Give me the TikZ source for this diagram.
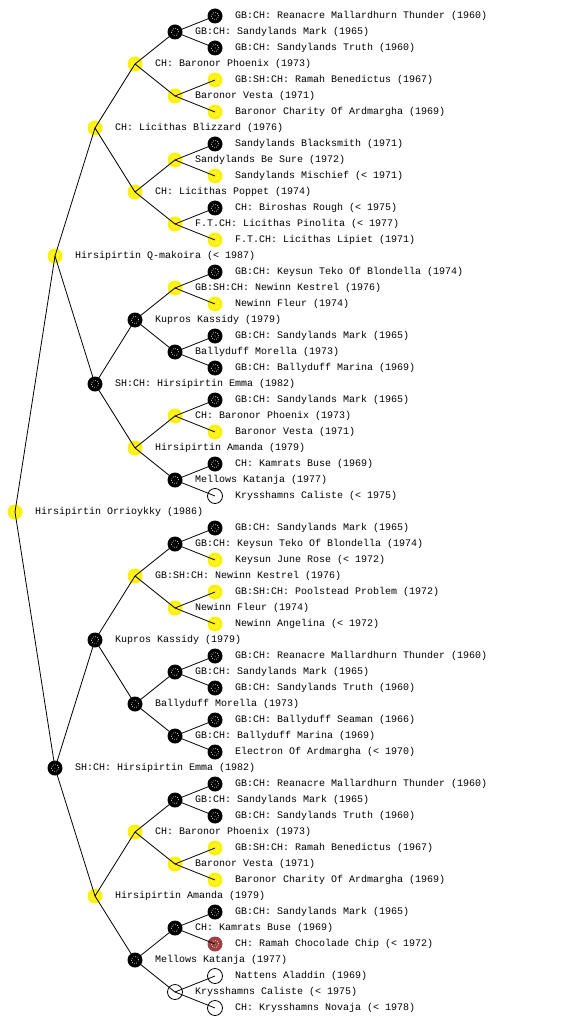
\documentclass[tikz,border=0pt]{standalone}
\usepackage{fontspec}
\setmonofont{Liberation Mono}
\tikzset{
  dotring/.style={path picture={\draw[#1, line width=0.7pt, dash pattern=on 0.7pt off 1.5pt] (path picture bounding box.center) circle (3.6pt); \fill[#1] (path picture bounding box.center) circle (0.5pt);}},
  pn/.style={circle, inner sep=0pt, minimum size=15pt},
  yel/.style={pn, fill=yellow, dotring=white},
  blk/.style={pn, fill=black, dotring=white},
  wht/.style={pn, draw=black, line width=0.8pt, fill=white},
  redn/.style={pn, fill={rgb,255:red,160;green,64;blue,64}, dotring=white},
  lbl/.style={anchor=west, inner sep=0pt, font=\ttfamily\fontsize{10}{12}\selectfont},
  edge/.style={line width=0.8pt, black}
}
\newcommand\pnode[5]{%
  \node[#2] (#1) at (#3,#4) {};
  \node[lbl] (#1t) at (#3+20,#4) {#5};
}
\begin{document}
\begin{tikzpicture}[x=1pt,y=-1pt]
\useasboundingbox (0,0) rectangle (560,1024);
\pnode{r}{yel}{15}{512}{Hirsipirtin Orrioykky (1986)}
\pnode{a}{yel}{55}{256}{Hirsipirtin Q-makoira (< 1987)}
\pnode{aa}{yel}{95}{128}{CH: Licithas Blizzard (1976)}
\pnode{aaa}{yel}{135}{64}{CH: Baronor Phoenix (1973)}
\pnode{aaaa}{blk}{175}{32}{GB:CH: Sandylands Mark (1965)}
\pnode{aaaaa}{blk}{215}{16}{GB:CH: Reanacre Mallardhurn Thunder (1960)}
\pnode{aaaab}{blk}{215}{48}{GB:CH: Sandylands Truth (1960)}
\pnode{aaab}{yel}{175}{96}{Baronor Vesta (1971)}
\pnode{aaaba}{yel}{215}{80}{GB:SH:CH: Ramah Benedictus (1967)}
\pnode{aaabb}{yel}{215}{112}{Baronor Charity Of Ardmargha (1969)}
\pnode{aab}{yel}{135}{192}{CH: Licithas Poppet (1974)}
\pnode{aaba}{yel}{175}{160}{Sandylands Be Sure (1972)}
\pnode{aabaa}{blk}{215}{144}{Sandylands Blacksmith (1971)}
\pnode{aabab}{yel}{215}{176}{Sandylands Mischief (< 1971)}
\pnode{aabb}{yel}{175}{224}{F.T.CH: Licithas Pinolita (< 1977)}
\pnode{aabba}{blk}{215}{208}{CH: Biroshas Rough (< 1975)}
\pnode{aabbb}{yel}{215}{240}{F.T.CH: Licithas Lipiet (1971)}
\pnode{ab}{blk}{95}{384}{SH:CH: Hirsipirtin Emma (1982)}
\pnode{aba}{blk}{135}{320}{Kupros Kassidy (1979)}
\pnode{abaa}{yel}{175}{288}{GB:SH:CH: Newinn Kestrel (1976)}
\pnode{abaaa}{blk}{215}{272}{GB:CH: Keysun Teko Of Blondella (1974)}
\pnode{abaab}{yel}{215}{304}{Newinn Fleur (1974)}
\pnode{abab}{blk}{175}{352}{Ballyduff Morella (1973)}
\pnode{ababa}{blk}{215}{336}{GB:CH: Sandylands Mark (1965)}
\pnode{ababb}{blk}{215}{368}{GB:CH: Ballyduff Marina (1969)}
\pnode{abb}{yel}{135}{448}{Hirsipirtin Amanda (1979)}
\pnode{abba}{yel}{175}{416}{CH: Baronor Phoenix (1973)}
\pnode{abbaa}{blk}{215}{400}{GB:CH: Sandylands Mark (1965)}
\pnode{abbab}{yel}{215}{432}{Baronor Vesta (1971)}
\pnode{abbb}{blk}{175}{480}{Mellows Katanja (1977)}
\pnode{abbba}{blk}{215}{464}{CH: Kamrats Buse (1969)}
\pnode{abbbb}{wht}{215}{496}{Krysshamns Caliste (< 1975)}
\pnode{b}{blk}{55}{768}{SH:CH: Hirsipirtin Emma (1982)}
\pnode{ba}{blk}{95}{640}{Kupros Kassidy (1979)}
\pnode{baa}{yel}{135}{576}{GB:SH:CH: Newinn Kestrel (1976)}
\pnode{baaa}{blk}{175}{544}{GB:CH: Keysun Teko Of Blondella (1974)}
\pnode{baaaa}{blk}{215}{528}{GB:CH: Sandylands Mark (1965)}
\pnode{baaab}{yel}{215}{560}{Keysun June Rose (< 1972)}
\pnode{baab}{yel}{175}{608}{Newinn Fleur (1974)}
\pnode{baaba}{yel}{215}{592}{GB:SH:CH: Poolstead Problem (1972)}
\pnode{baabb}{yel}{215}{624}{Newinn Angelina (< 1972)}
\pnode{bab}{blk}{135}{704}{Ballyduff Morella (1973)}
\pnode{baba}{blk}{175}{672}{GB:CH: Sandylands Mark (1965)}
\pnode{babaa}{blk}{215}{656}{GB:CH: Reanacre Mallardhurn Thunder (1960)}
\pnode{babab}{blk}{215}{688}{GB:CH: Sandylands Truth (1960)}
\pnode{babb}{blk}{175}{736}{GB:CH: Ballyduff Marina (1969)}
\pnode{babba}{blk}{215}{720}{GB:CH: Ballyduff Seaman (1966)}
\pnode{babbb}{blk}{215}{752}{Electron Of Ardmargha (< 1970)}
\pnode{bb}{yel}{95}{896}{Hirsipirtin Amanda (1979)}
\pnode{bba}{yel}{135}{832}{CH: Baronor Phoenix (1973)}
\pnode{bbaa}{blk}{175}{800}{GB:CH: Sandylands Mark (1965)}
\pnode{bbaaa}{blk}{215}{784}{GB:CH: Reanacre Mallardhurn Thunder (1960)}
\pnode{bbaab}{blk}{215}{816}{GB:CH: Sandylands Truth (1960)}
\pnode{bbab}{yel}{175}{864}{Baronor Vesta (1971)}
\pnode{bbaba}{yel}{215}{848}{GB:SH:CH: Ramah Benedictus (1967)}
\pnode{bbabb}{yel}{215}{880}{Baronor Charity Of Ardmargha (1969)}
\pnode{bbb}{blk}{135}{960}{Mellows Katanja (1977)}
\pnode{bbba}{blk}{175}{928}{CH: Kamrats Buse (1969)}
\pnode{bbbaa}{blk}{215}{912}{GB:CH: Sandylands Mark (1965)}
\pnode{bbbab}{redn}{215}{944}{CH: Ramah Chocolade Chip (< 1972)}
\pnode{bbbb}{wht}{175}{992}{Krysshamns Caliste (< 1975)}
\pnode{bbbba}{wht}{215}{976}{Nattens Aladdin (1969)}
\pnode{bbbbb}{wht}{215}{1008}{CH: Krysshamns Novaja (< 1978)}
\draw[edge] (r.center) -- (a.center);
\draw[edge] (r.center) -- (b.center);
\foreach \p in {a,b,aa,ab,ba,bb,aaa,aab,aba,abb,baa,bab,bba,bbb,aaaa,aaab,aaba,aabb,abaa,abab,abba,abbb,baaa,baab,baba,babb,bbaa,bbab,bbba,bbbb}{
  \draw[edge] (\p.center) -- (\p a.center);
  \draw[edge] (\p.center) -- (\p b.center);
}
\end{tikzpicture}
\end{document}
